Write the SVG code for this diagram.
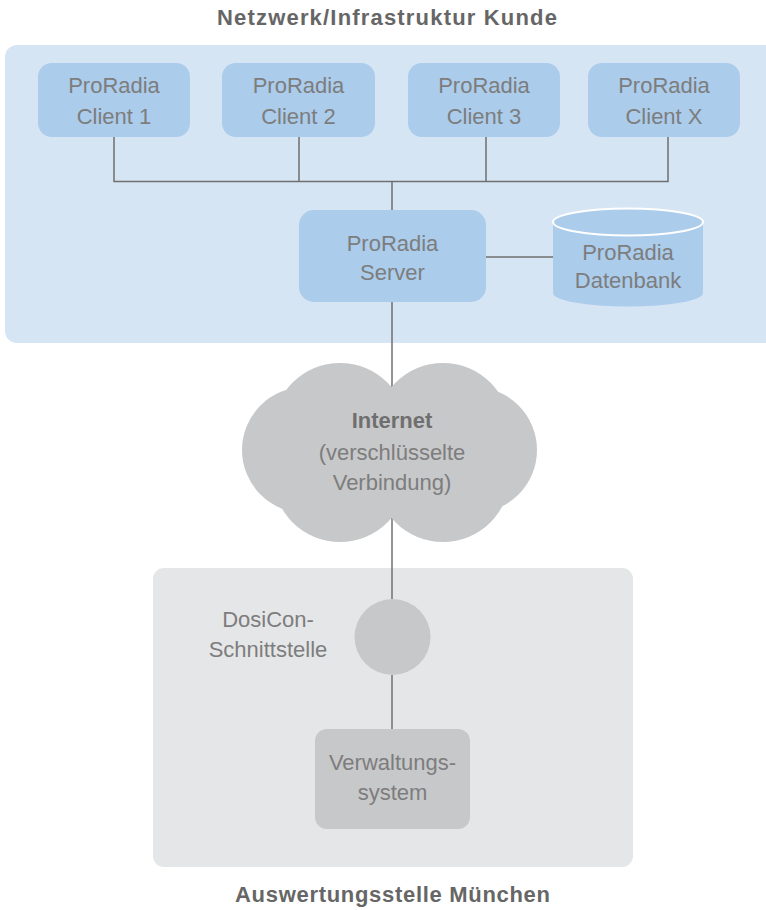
<svg xmlns="http://www.w3.org/2000/svg" width="766" height="910" viewBox="0 0 766 910">
<style>
.t{font-family:"Liberation Sans",Arial,sans-serif;font-size:22px;fill:#7d7d7d;text-anchor:middle}
.h{font-family:"Liberation Sans",Arial,sans-serif;font-size:22px;font-weight:bold;fill:#666;text-anchor:middle}
.b{fill:#abcceb}
.g{fill:#c7c8ca}
.c{stroke:#6f6f6f;stroke-width:1.5;fill:none}
</style>
<rect width="766" height="910" fill="#fff"/>
<g id="panel-kunde">
<rect x="5" y="45" width="775" height="298" rx="12" fill="#d5e5f4"/>
<text class="h" x="387" y="25" textLength="340" lengthAdjust="spacing">Netzwerk/Infrastruktur Kunde</text>
</g>
<g id="panel-muenchen">
<rect x="153" y="568" width="480" height="299" rx="11" fill="#e5e6e8"/>
<text class="h" x="392.5" y="902" textLength="315" lengthAdjust="spacing">Auswertungsstelle München</text>
</g>
<g id="connectors">
<path class="c" d="M114 137V181.5H668V137M299 137V181.5M486 137V181.5M392 181.5V210"/>
<path class="c" d="M486 257H553"/>
<path class="c" d="M392 302V599"/>
<path class="c" d="M392 675V729"/>
</g>
<g id="client1"><rect class="b" x="38" y="63" width="152" height="74" rx="14"/><text class="t" x="114" y="93">ProRadia</text><text class="t" x="114" y="124">Client 1</text></g>
<g id="client2"><rect class="b" x="222" y="63" width="153" height="74" rx="14"/><text class="t" x="298.5" y="93">ProRadia</text><text class="t" x="298.5" y="124">Client 2</text></g>
<g id="client3"><rect class="b" x="408" y="63" width="152" height="74" rx="14"/><text class="t" x="484" y="93">ProRadia</text><text class="t" x="484" y="124">Client 3</text></g>
<g id="clientX"><rect class="b" x="588" y="63" width="152" height="74" rx="14"/><text class="t" x="664" y="93">ProRadia</text><text class="t" x="664" y="124">Client X</text></g>
<g id="server"><rect class="b" x="299" y="210" width="187" height="92" rx="15"/><text class="t" x="392.5" y="251">ProRadia</text><text class="t" x="392.5" y="280">Server</text></g>
<g id="datenbank">
<path class="b" d="M553 222V293A75 13.5 0 0 0 703 293V222Z"/>
<ellipse class="b" cx="628" cy="222" rx="75" ry="13.5" stroke="#fff" stroke-width="2"/>
<text class="t" x="628" y="260">ProRadia</text><text class="t" x="628" y="288">Datenbank</text>
</g>
<g id="internet">
<g class="g">
<circle cx="340" cy="430" r="67"/><circle cx="443" cy="430" r="67"/>
<circle cx="305" cy="450" r="63"/><circle cx="474" cy="450" r="63"/>
<circle cx="340" cy="475" r="67"/><circle cx="443" cy="475" r="67"/>
</g>
<text class="t" x="392" y="428" style="font-weight:bold;fill:#6f6f6f">Internet</text>
<text class="t" x="392" y="460">(verschlüsselte</text>
<text class="t" x="392" y="490">Verbindung)</text>
</g>
<g id="dosicon">
<circle class="g" cx="392.5" cy="637" r="38"/>
<text class="t" x="268" y="627">DosiCon-</text><text class="t" x="268" y="657">Schnittstelle</text>
</g>
<g id="verwaltung"><rect class="g" x="315" y="729" width="155" height="100" rx="12"/><text class="t" x="392.5" y="770">Verwaltungs-</text><text class="t" x="392.5" y="800">system</text></g>
</svg>
